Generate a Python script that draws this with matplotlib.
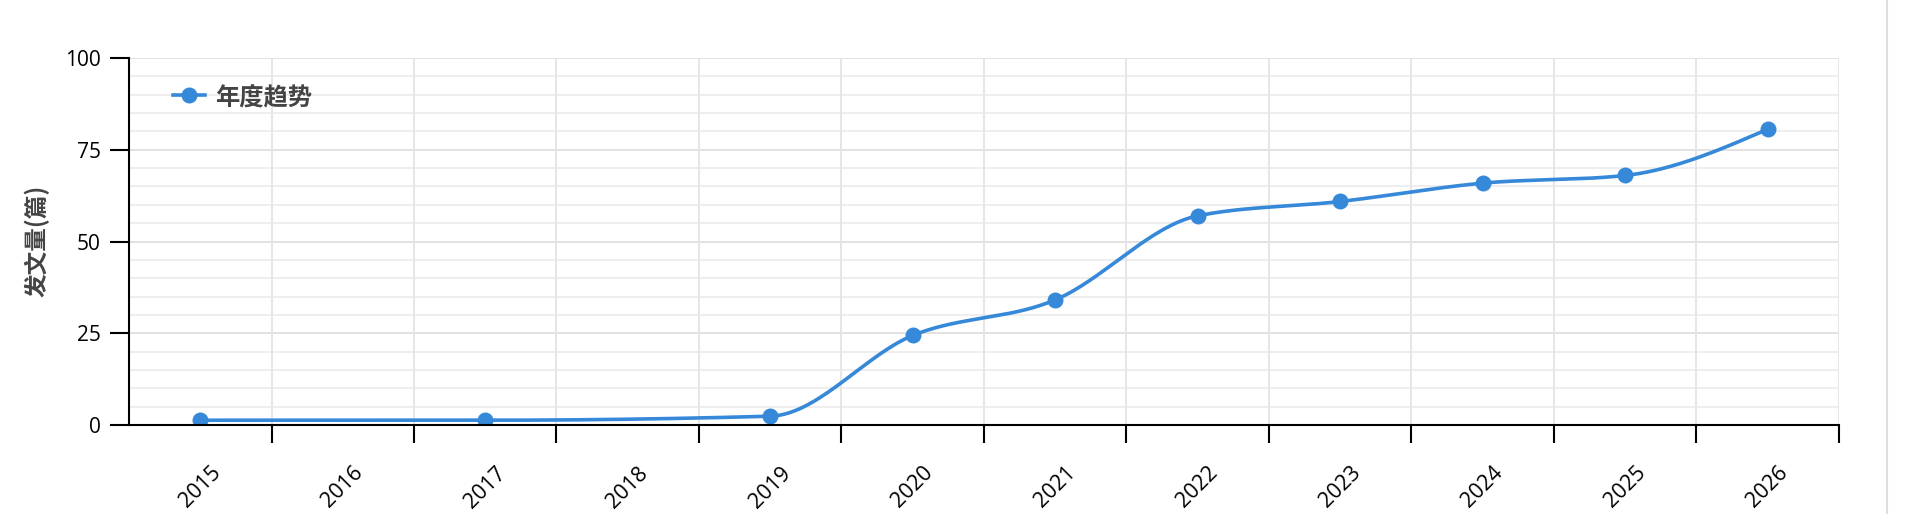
import numpy as np
import matplotlib
matplotlib.use("Agg")
import matplotlib.pyplot as plt
from matplotlib.ticker import FixedLocator, NullFormatter
from matplotlib.lines import Line2D

# ---- data ----
years = ["2015", "2016", "2017", "2018", "2019", "2020",
         "2021", "2022", "2023", "2024", "2025", "2026"]
values = [1.3, None, 1.3, None, 2.4, 24.4, 34.1, 57.0, 60.9, 65.9, 68.0, 80.6]
series_name = "年度趋势"
y_label = "发文量(篇)"
y_ticks = [0, 25, 50, 75, 100]

LINE_COLOR = "#3688d8"
CJK = ["Noto Sans CJK SC", "DejaVu Sans"]
NUM = ["Open Sans", "DejaVu Sans"]


def _sign(v):
    return -1.0 if v < 0 else 1.0


def monotone_x(xs, ys, samples=60):
    """d3.curveMonotoneX style interpolation through the given points."""
    n = len(xs)
    xs = np.asarray(xs, float)
    ys = np.asarray(ys, float)
    if n < 3:
        return xs, ys
    t = np.zeros(n)
    for i in range(1, n - 1):
        h0 = xs[i] - xs[i - 1]
        h1 = xs[i + 1] - xs[i]
        s0 = (ys[i] - ys[i - 1]) / h0
        s1 = (ys[i + 1] - ys[i]) / h1
        p = (s0 * h1 + s1 * h0) / (h0 + h1)
        t[i] = (_sign(s0) + _sign(s1)) * min(abs(s0), abs(s1), 0.5 * abs(p))
    h = xs[1] - xs[0]
    t[0] = (3 * (ys[1] - ys[0]) / h - t[1]) / 2
    h = xs[-1] - xs[-2]
    t[-1] = (3 * (ys[-1] - ys[-2]) / h - t[-2]) / 2
    out_x, out_y = [], []
    u = np.linspace(0, 1, samples)
    for i in range(n - 1):
        x0, y0, x1, y1 = xs[i], ys[i], xs[i + 1], ys[i + 1]
        dx = (x1 - x0) / 3
        P = np.array([[x0, y0], [x0 + dx, y0 + dx * t[i]],
                      [x1 - dx, y1 - dx * t[i + 1]], [x1, y1]])
        b = ((1 - u) ** 3)[:, None] * P[0] + (3 * (1 - u) ** 2 * u)[:, None] * P[1] \
            + (3 * (1 - u) * u ** 2)[:, None] * P[2] + (u ** 3)[:, None] * P[3]
        if i > 0:
            b = b[1:]
        out_x.extend(b[:, 0])
        out_y.extend(b[:, 1])
    return np.array(out_x), np.array(out_y)


W, H = 1924, 514
fig = plt.figure(figsize=(W / 100, H / 100), dpi=100)
ax_left, ax_right, ax_top, ax_bottom = 129, 1839, 58, 425
ax = fig.add_axes([ax_left / W, 1 - ax_bottom / H,
                   (ax_right - ax_left) / W, (ax_bottom - ax_top) / H])

ncat = len(years)
centers = np.arange(ncat) + 0.5
px = [centers[i] for i, v in enumerate(values) if v is not None]
py = [v for v in values if v is not None]

cx, cy = monotone_x(px, py)
ax.plot(cx, cy, color=LINE_COLOR, lw=2.6, solid_capstyle="round", zorder=4)
ax.plot(px, py, "o", color=LINE_COLOR, ms=11.5, mew=0, zorder=5)

ax.set_xlim(0, ncat)
ax.set_ylim(0, 100)

# grid
for yv in np.arange(5, 101, 5):
    ax.axhline(yv, color="#e2e2e2" if yv % 25 == 0 else "#eeeeee",
               lw=1.4, zorder=1)
for xv in range(1, ncat + 1):
    ax.axvline(xv, color="#e6e6e6", lw=1.4, zorder=1)

# spines
for s in ["top", "right"]:
    ax.spines[s].set_visible(False)
for s in ["left", "bottom"]:
    ax.spines[s].set_linewidth(1.5)
    ax.spines[s].set_color("black")
    ax.spines[s].set_zorder(6)

# y ticks
ax.yaxis.set_major_locator(FixedLocator(y_ticks))
ax.set_yticklabels([str(v) for v in y_ticks], fontsize=15, family=NUM)
ax.tick_params(axis="y", which="major", length=13.5, width=1.5, pad=7,
               colors="black")

# x ticks: major at boundaries (no labels), minor at centers (labels)
ax.xaxis.set_major_locator(FixedLocator(np.arange(1, ncat + 1)))
ax.xaxis.set_major_formatter(NullFormatter())
ax.xaxis.set_minor_locator(FixedLocator(centers))
ax.set_xticklabels(years, minor=True, fontsize=15.5, family=NUM,
                   rotation=45, ha="center", va="top")
ax.tick_params(axis="x", which="major", length=13, width=1.5)
ax.tick_params(axis="x", which="minor", length=0, pad=27)

# y label
fig.text(37 / W, 1 - 241 / H, y_label, rotation=90, ha="center", va="center",
         fontsize=17, fontweight="bold", color="#444444", family=CJK)

# legend
handle = Line2D([0], [0], color=LINE_COLOR, lw=2.6, marker="o", ms=11.5, mew=0)
leg = ax.legend([handle], [series_name], loc="center left",
                bbox_to_anchor=((173 - ax_left) / (ax_right - ax_left),
                                1 - (97 - ax_top) / (ax_bottom - ax_top)),
                borderaxespad=0, borderpad=0, frameon=False,
                handlelength=1.3, handletextpad=0.45,
                prop={"family": CJK, "weight": "bold", "size": 17.5})
for txt in leg.get_texts():
    txt.set_color("#444444")

# right border line of the page
fig.add_artist(Line2D([1887 / W, 1887 / W], [0, 1], color="#dedede", lw=1.5))

fig.savefig("out.png", dpi=100, facecolor="white")
